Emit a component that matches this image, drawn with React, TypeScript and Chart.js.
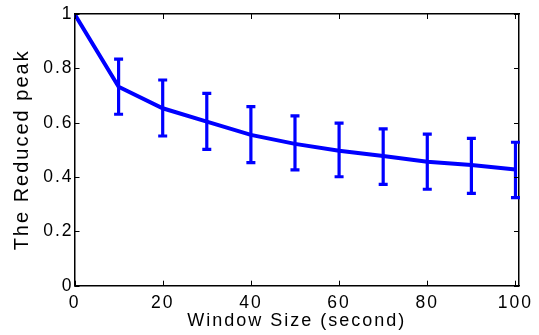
import React, { useEffect, useRef } from "react";
import { Chart, registerables } from "chart.js";

Chart.register(...registerables);

const windowSizes = [0, 10, 20, 30, 40, 50, 60, 70, 80, 90, 100];
const meanPeak = [1, 0.732, 0.653, 0.604, 0.555, 0.522, 0.497, 0.477, 0.456, 0.444, 0.428];
const upperPeak = [null, 0.834, 0.757, 0.708, 0.659, 0.625, 0.598, 0.577, 0.558, 0.542, 0.528];
const lowerPeak = [null, 0.631, 0.551, 0.502, 0.453, 0.426, 0.401, 0.373, 0.355, 0.340, 0.324];
const xTickValues = [0, 20, 40, 60, 80, 100];
const yTickValues = [0, 0.2, 0.4, 0.6, 0.8, 1];

const FONT = "'Liberation Sans', Arial, Helvetica, sans-serif";
const BLUE = "#0000ff";

const errorBarPlugin = {
  id: "errorBars",
  beforeDraw(chart: any) {
    (chart.ctx as any).letterSpacing = "2px";
  },
  afterDatasetsDraw(chart: any) {
    const { ctx, scales } = chart;
    const x = scales.x;
    const y = scales.y;
    ctx.save();
    ctx.strokeStyle = BLUE;
    ctx.lineWidth = 3.2;
    ctx.lineCap = "butt";
    windowSizes.forEach((w, i) => {
      const hi = upperPeak[i];
      const lo = lowerPeak[i];
      if (hi == null || lo == null) return;
      const px = x.getPixelForValue(w);
      const pyHi = y.getPixelForValue(hi);
      const pyLo = y.getPixelForValue(lo);
      ctx.beginPath();
      ctx.moveTo(px, pyHi);
      ctx.lineTo(px, pyLo);
      ctx.stroke();
      ctx.beginPath();
      ctx.moveTo(px - 4.5, pyHi);
      ctx.lineTo(px + 4.5, pyHi);
      ctx.moveTo(px - 4.5, pyLo);
      ctx.lineTo(px + 4.5, pyLo);
      ctx.stroke();
    });
    ctx.restore();
  },
  afterDraw(chart: any) {
    const { ctx, scales, chartArea } = chart;
    const x = scales.x;
    const y = scales.y;
    ctx.save();
    ctx.strokeStyle = "#000";
    ctx.lineWidth = 1;
    const len = 5;
    xTickValues.forEach((v) => {
      const px = Math.round(x.getPixelForValue(v)) + 0.5;
      ctx.beginPath();
      ctx.moveTo(px, chartArea.bottom);
      ctx.lineTo(px, chartArea.bottom - len);
      ctx.moveTo(px, chartArea.top);
      ctx.lineTo(px, chartArea.top + len);
      ctx.stroke();
    });
    yTickValues.forEach((v) => {
      const py = Math.round(y.getPixelForValue(v)) + 0.5;
      ctx.beginPath();
      ctx.moveTo(chartArea.left, py);
      ctx.lineTo(chartArea.left + len, py);
      ctx.moveTo(chartArea.right, py);
      ctx.lineTo(chartArea.right - len, py);
      ctx.stroke();
    });
    ctx.restore();
  },
};

export default function App() {
  const canvasRef = useRef<HTMLCanvasElement | null>(null);

  useEffect(() => {
    document.body.style.margin = "0";
    const canvas = canvasRef.current;
    if (!canvas) return;
    const border = { display: true, color: "#000", width: 1.5 };
    const chart = new Chart(canvas, {
      type: "line",
      data: {
        datasets: [
          {
            label: "Reduced peak",
            data: windowSizes.map((w, i) => ({ x: w, y: meanPeak[i] })),
            borderColor: BLUE,
            backgroundColor: BLUE,
            borderWidth: 4,
            pointRadius: 0,
            tension: 0,
            fill: false,
          },
        ],
      },
      options: {
        responsive: false,
        animation: false,
        devicePixelRatio: 1,
        layout: { padding: 0 },
        plugins: {
          legend: { display: false },
          tooltip: { enabled: false },
        },
        scales: {
          x: {
            type: "linear",
            position: "bottom",
            min: 0,
            max: 100.8,
            afterBuildTicks: (s: any) => {
              s.ticks = xTickValues.map((v) => ({ value: v }));
            },
            afterFit: (s: any) => {
              s.height = 49.3;
            },
            grid: { display: false, drawTicks: false },
            border,
            ticks: {
              color: "#000",
              font: { family: FONT, size: 17.5 },
              padding: 7,
              maxRotation: 0,
              autoSkip: false,
              callback: (v: any) => String(v),
            },
            title: {
              display: true,
              text: "Window Size (second)",
              color: "#000",
              font: { family: FONT, size: 18 },
              padding: { top: 0, bottom: 3.2 },
            },
          },
          x2: {
            type: "linear",
            position: "top",
            min: 0,
            max: 100.8,
            afterFit: (s: any) => {
              s.height = 14;
            },
            grid: { display: false, drawTicks: false },
            border,
            ticks: { display: false },
          },
          y: {
            type: "linear",
            position: "left",
            min: 0,
            max: 1,
            afterBuildTicks: (s: any) => {
              s.ticks = yTickValues.map((v) => ({ value: v }));
            },
            afterFit: (s: any) => {
              s.width = 74.5;
            },
            grid: { display: false, drawTicks: false },
            border,
            ticks: {
              color: "#000",
              font: { family: FONT, size: 17.5 },
              padding: 1,
              autoSkip: false,
              callback: (v: any) => String(v),
            },
            title: {
              display: true,
              text: "The Reduced peak",
              color: "#000",
              font: { family: FONT, size: 20 },
              padding: { top: 10.1, bottom: 0 },
            },
          },
          y2: {
            type: "linear",
            position: "right",
            min: 0,
            max: 1,
            afterFit: (s: any) => {
              s.width = 20;
            },
            grid: { display: false, drawTicks: false },
            border,
            ticks: { display: false },
          },
        },
      } as any,
      plugins: [errorBarPlugin],
    });
    return () => chart.destroy();
  }, []);

  return (
    <div style={{ width: 539, height: 335, background: "#fff" }}>
      <canvas ref={canvasRef} width={539} height={335} />
    </div>
  );
}
